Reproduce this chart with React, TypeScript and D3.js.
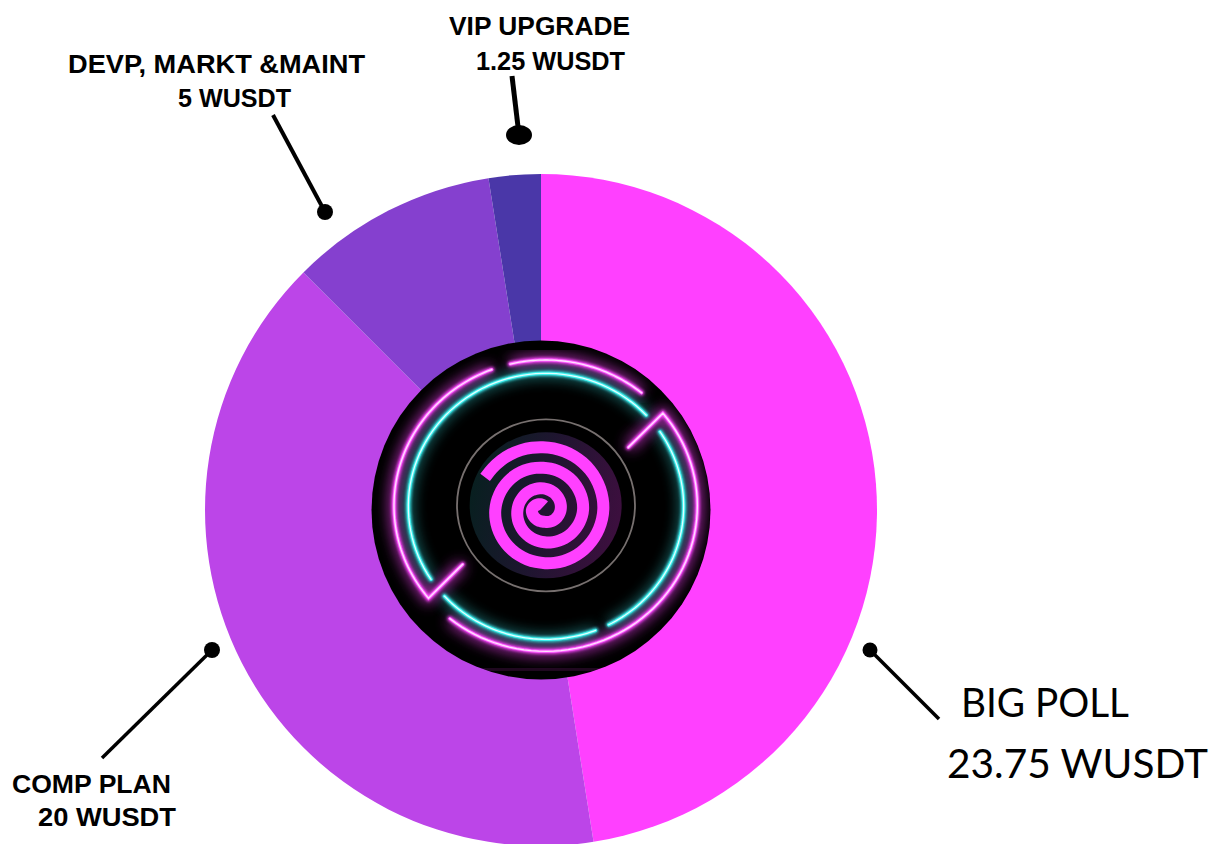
import React from "react";
import * as d3 from "d3";

const categories = ["BIG POLL", "COMP PLAN", "DEVP, MARKT &MAINT", "VIP UPGRADE"];
const amounts = [23.75, 20, 5, 1.25];
const sliceColors = ["#ff40ff", "#bc45e8", "#8540cf", "#4a37a8"];

const W = 1226;
const H = 844;
const cx = 541;
const cy = 510;
const R = 336;

const pie = d3.pie<number>().sort(null).value((d) => d);
const arc = d3.arc<d3.PieArcDatum<number>>().innerRadius(0).outerRadius(R);

// the logo was measured from a 3x crop starting at (360,330)
type Pt = [number, number];
const toPage = (p: Pt): Pt => [360 + p[0] / 3, 330 + p[1] / 3];
const line = d3.line<Pt>();

// samples an elliptical arc between two measured points, clockwise on screen or not
const ringArc = (c: Pt, rx: number, ry: number, from: Pt, to: Pt, clockwise: boolean, tail?: Pt) => {
  const a0 = Math.atan2((from[1] - c[1]) / ry, (from[0] - c[0]) / rx);
  let a1 = Math.atan2((to[1] - c[1]) / ry, (to[0] - c[0]) / rx);
  if (clockwise && a1 < a0) a1 += 2 * Math.PI;
  if (!clockwise && a1 > a0) a1 -= 2 * Math.PI;
  const pts = d3.range(0, 61).map((i): Pt => {
    const a = a0 + ((a1 - a0) * i) / 60;
    return toPage([c[0] + rx * Math.cos(a), c[1] + ry * Math.sin(a)]);
  });
  if (tail) pts.push(toPage(tail));
  return line(pts) ?? "";
};

const pinkC: Pt = [557, 527];
const cyanC: Pt = [558, 529];
const pinkPaths = [
  ringArc(pinkC, 455, 437, [395, 118], [205, 805], false, [308, 703]),
  ringArc(pinkC, 455, 437, [268, 868], [908, 250], false, [805, 352]),
  ringArc(pinkC, 455, 437, [450, 100], [845, 188], true),
];
const cyanPaths = [
  ringArc(cyanC, 413, 399, [215, 747], [856, 258], true),
  ringArc(cyanC, 413, 399, [897, 307], [745, 882], true),
  ringArc(cyanC, 413, 399, [705, 897], [255, 797], true),
];

// spiral radius read at each quarter turn, clockwise from its outer end
const spiralDeg = [-61, 0, 90, 180, 270, 360, 450, 540, 630, 720, 810, 900, 990, 1080];
const spiralRad = [202, 189, 179, 160, 147, 127, 118, 97, 80, 65, 50, 35, 37, 12];
const radiusAt = d3.scaleLinear<number>().domain(spiralDeg).range(spiralRad);
const spiral = d3
  .lineRadial<number>()
  .angle((d) => (d * Math.PI) / 180)
  .radius((d) => radiusAt(d) / 3)
  .curve(d3.curveBasis);

const labels = [
  { text: "VIP UPGRADE", x: 449, y: 35, w: 181 },
  { text: "1.25 WUSDT", x: 476, y: 70, w: 149 },
  { text: "DEVP, MARKT &MAINT", x: 68, y: 73, w: 297 },
  { text: "5 WUSDT", x: 178, y: 107, w: 113 },
  { text: "COMP PLAN", x: 12, y: 793, w: 159 },
  { text: "20 WUSDT", x: 38, y: 826, w: 138 },
];

const leaders = [
  { x1: 512, y1: 76, x2: 519, y2: 135, rx: 13, ry: 10, sw: 5 },
  { x1: 273, y1: 115, x2: 325, y2: 212, rx: 8, ry: 8, sw: 4 },
  { x1: 939, y1: 719, x2: 870, y2: 650, rx: 7.5, ry: 7.5, sw: 3.5 },
  { x1: 102, y1: 758, x2: 212, y2: 650, rx: 8, ry: 8, sw: 3.5 },
];

export default function App() {
  const arcs = pie(amounts);
  return (
    <svg
      width={W}
      height={H}
      viewBox={`0 0 ${W} ${H}`}
      style={{ position: "absolute", left: 0, top: 0, background: "#fff" }}
    >
      <defs>
        <filter id="glow" x="-30%" y="-30%" width="160%" height="160%">
          <feGaussianBlur stdDeviation="7" />
        </filter>
        <filter id="softGlow" x="-30%" y="-30%" width="160%" height="160%">
          <feGaussianBlur stdDeviation="1.8" />
        </filter>
        <linearGradient id="innerDisc" x1="0" x2="1" y1="0.3" y2="0.5">
          <stop offset="0" stopColor="#07201f" />
          <stop offset="0.5" stopColor="#1f1530" />
          <stop offset="1" stopColor="#3c0f3e" />
        </linearGradient>
        <clipPath id="diskClip">
          <circle cx={cx} cy={cy} r={169} />
        </clipPath>
      </defs>

      <g transform={`translate(${cx},${cy})`}>
        {arcs.map((d, i) => (
          <path key={categories[i]} d={arc(d) ?? ""} fill={sliceColors[i]} />
        ))}
      </g>

      <circle cx={cx} cy={cy} r={169.5} fill="#000" />
      <g clipPath="url(#diskClip)">
        {pinkPaths.map((d) => (
          <path key={d} d={d} fill="none" stroke="#ff40ff" strokeWidth={9} opacity={0.75} filter="url(#glow)" />
        ))}
        {cyanPaths.map((d) => (
          <path key={d} d={d} fill="none" stroke="#35e8e8" strokeWidth={8} opacity={0.55} filter="url(#glow)" />
        ))}
        <rect x={400} y={668} width={290} height={3} fill="#ff40ff" opacity={0.12} />
      </g>

      <ellipse cx={360 + 558 / 3} cy={330 + 526 / 3} rx={89} ry={86} fill="none" stroke="#77706f" strokeWidth={1.8} />
      <ellipse cx={360 + 557 / 3} cy={330 + 526 / 3} rx={76} ry={73} fill="url(#innerDisc)" />

      {pinkPaths.map((d) => (
        <g key={d} fill="none" strokeLinecap="round" strokeLinejoin="miter">
          <path d={d} stroke="#ff40ff" strokeWidth={5} filter="url(#softGlow)" />
          <path d={d} stroke="#ff6cff" strokeWidth={3} />
          <path d={d} stroke="#ffe0ff" strokeWidth={1.3} />
        </g>
      ))}
      {cyanPaths.map((d) => (
        <g key={d} fill="none" strokeLinecap="round">
          <path d={d} stroke="#35e8e8" strokeWidth={5} filter="url(#softGlow)" />
          <path d={d} stroke="#3ff0ee" strokeWidth={3.2} />
          <path d={d} stroke="#e0ffff" strokeWidth={1.3} />
        </g>
      ))}

      <path
        transform={`translate(${360 + 552 / 3},${330 + 540 / 3})`}
        d={spiral(d3.range(-61, 1081, 10)) ?? ""}
        fill="none"
        stroke="#ff40ff"
        strokeWidth={12}
      />

      {leaders.map((l) => (
        <g key={l.x1}>
          <line x1={l.x1} y1={l.y1} x2={l.x2} y2={l.y2} stroke="#000" strokeWidth={l.sw} />
          <ellipse cx={l.x2} cy={l.y2} rx={l.rx} ry={l.ry} fill="#000" />
        </g>
      ))}

      {labels.map((l) => (
        <text
          key={l.text}
          x={l.x}
          y={l.y}
          textLength={l.w}
          lengthAdjust="spacingAndGlyphs"
          fontFamily="'Liberation Sans', Arial, sans-serif"
          fontWeight={700}
          fontSize={26}
          fill="#000"
        >
          {l.text}
        </text>
      ))}

      <g fontFamily="Lato, 'Noto Sans', sans-serif" fontSize={41} fill="#000">
        <text x={961} y={717} textLength={168} lengthAdjust="spacingAndGlyphs">
          BIG POLL
        </text>
        <text x={947} y={778} textLength={261} lengthAdjust="spacingAndGlyphs">
          23.75 WUSDT
        </text>
      </g>
    </svg>
  );
}
